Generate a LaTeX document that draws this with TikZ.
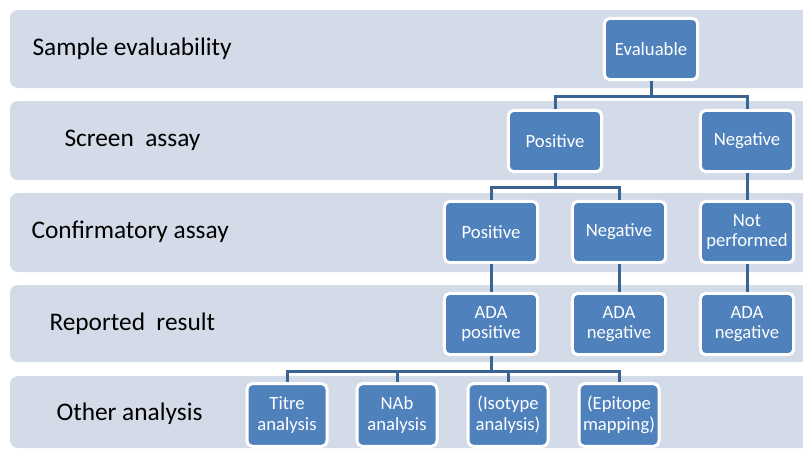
\documentclass[tikz,border=0pt]{standalone}
\usepackage{fontspec}
\setmainfont{Carlito}
\definecolor{bandfill}{RGB}{211,218,232}
\definecolor{boxfill}{RGB}{79,129,189}
\definecolor{linkcol}{RGB}{58,101,147}
\tikzset{every picture/.style={line width=0.75pt}}
\tikzset{
  band/.style={fill=bandfill, draw=none, rounded corners=6pt},
  rowlabel/.style={anchor=west, inner sep=0.75pt, font=\fontsize{19}{22}\selectfont},
  resbox/.style={draw=white, line width=2.25pt, fill=boxfill, rounded corners=4pt,
    minimum width=70pt, minimum height=46pt, text=white, align=center,
    font=\fontsize{14}{15.5}\selectfont, inner sep=1pt},
  subbox/.style={resbox, minimum width=60pt, minimum height=47pt},
  link/.style={draw=linkcol, line width=2.25pt}
}

\begin{document}
\begin{tikzpicture}[x=0.75pt,y=0.75pt,yscale=-1,xscale=1]
\useasboundingbox (0,0) rectangle (803,450);

%Bands
\fill[white] (0,0) rectangle (803,450);
\path[band] (10,10) rectangle (830,88);
\path[band] (10,101) rectangle (830,180);
\path[band] (10,193) rectangle (830,272);
\path[band] (10,285) rectangle (830,362);
\path[band] (10,376) rectangle (830,448);

% Row labels
\node[rowlabel] (lsample) at (31,49) {Sample evaluability};
\node[rowlabel] (lscreen) at (63,140) {Screen\ \ assay};
\node[rowlabel] (lconf) at (30,232) {Confirmatory assay};
\node[rowlabel] (lrep) at (48,324) {Reported\ \ result};
\node[rowlabel] (lother) at (55,414) {Other analysis};

% Result boxes
\node[resbox] (eval) at (651,49) {Evaluable};
\node[resbox] (spos) at (555,141) {Positive};
\node[resbox] (sneg) at (747,141) {Negative};
\node[resbox] (cpos) at (491,232) {Positive};
\node[resbox] (cneg) at (619,232) {Negative};
\node[resbox] (cnot) at (747,232) {Not\\performed};
\node[resbox] (rpos) at (491,324) {ADA\\positive};
\node[resbox] (rneg) at (619,324) {ADA\\negative};
\node[resbox] (rnot) at (747,324) {ADA\\negative};

% Other analysis boxes
\node[subbox] (titre) at (287,415) {Titre\\analysis};
\node[subbox] (nab) at (397,415) {NAb\\analysis};
\node[subbox] (iso) at (508,415) {(Isotype\\analysis)};
\node[subbox] (epi) at (619,415) {(Epitope\\mapping)};

% Connectors
\coordinate (j1) at (651,96);
\coordinate (j2) at (555,187);
\coordinate (j3) at (491,371);
\draw[link] (eval.south) -- (j1);
\draw[link] (j1) -| (spos.north);
\draw[link] (j1) -| (sneg.north);
\draw[link] (spos.south) -- (j2);
\draw[link] (j2) -| (cpos.north);
\draw[link] (j2) -| (cneg.north);
\draw[link] (sneg.south) -- (cnot.north);
\draw[link] (cpos.south) -- (rpos.north);
\draw[link] (cneg.south) -- (rneg.north);
\draw[link] (cnot.south) -- (rnot.north);
\draw[link] (rpos.south) -- (j3);
\draw[link] (j3) -| (titre.north);
\draw[link] (j3) -| (nab.north);
\draw[link] (j3) -| (iso.north);
\draw[link] (j3) -| (epi.north);

\end{tikzpicture}
\end{document}
